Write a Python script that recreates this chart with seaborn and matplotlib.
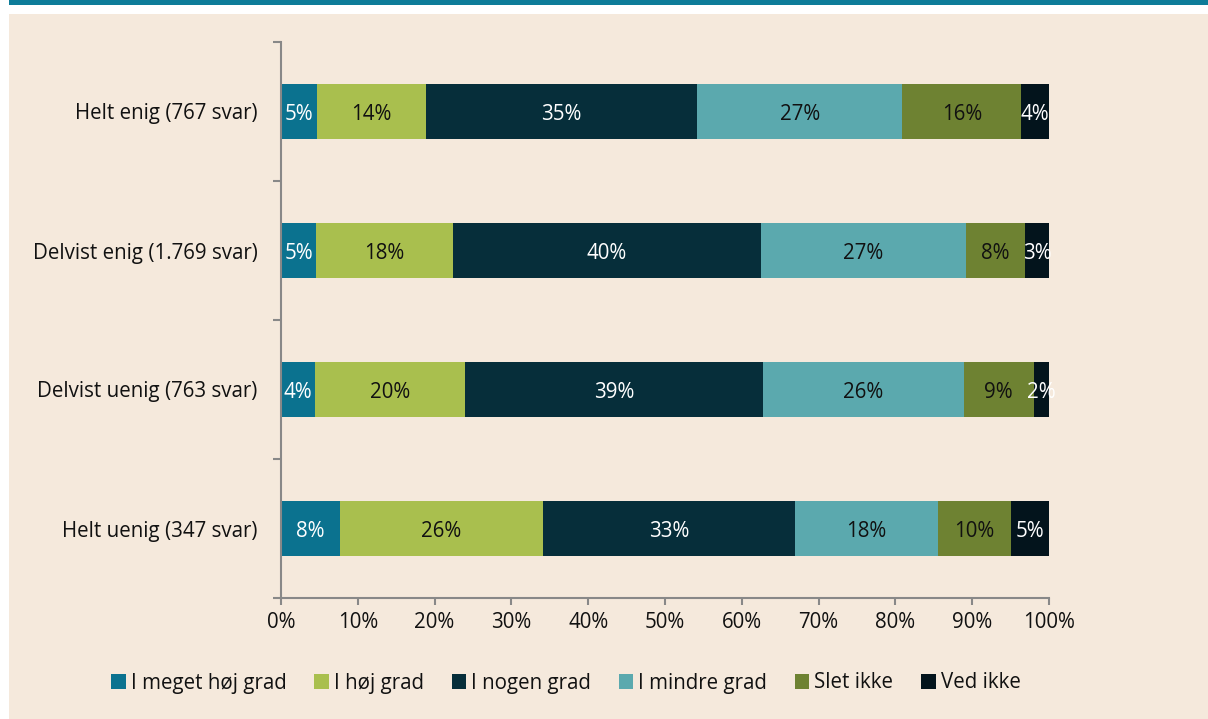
import matplotlib
matplotlib.use("Agg")
import matplotlib.pyplot as plt
import matplotlib.patches as mpatches
import seaborn as sns
import numpy as np
import pandas as pd

categories = ["Helt enig (767 svar)", "Delvist enig (1.769 svar)",
              "Delvist uenig (763 svar)", "Helt uenig (347 svar)"]
series = ["I meget høj grad", "I høj grad", "I nogen grad",
          "I mindre grad", "Slet ikke", "Ved ikke"]
values = {
    "I meget høj grad": [4.7, 4.6, 4.4, 7.7],
    "I høj grad":       [14.2, 17.8, 19.6, 26.4],
    "I nogen grad":     [35.3, 40.1, 38.8, 32.8],
    "I mindre grad":    [26.7, 26.7, 26.1, 18.6],
    "Slet ikke":        [15.5, 7.7, 9.1, 9.6],
    "Ved ikke":         [3.6, 3.1, 2.0, 4.9],
}
labels = {
    "I meget høj grad": [5, 5, 4, 8],
    "I høj grad":       [14, 18, 20, 26],
    "I nogen grad":     [35, 40, 39, 33],
    "I mindre grad":    [27, 27, 26, 18],
    "Slet ikke":        [16, 8, 9, 10],
    "Ved ikke":         [4, 3, 2, 5],
}
colors = ["#0B728F", "#A9BF4E", "#062E3A", "#5BA9AE", "#6E8232", "#03141C"]
text_colors = ["white", "#111111", "white", "#111111", "#111111", "white"]

BG = "#F5E9DC"
FS = 14.8
sns.set_theme(style="white")
plt.rcParams["font.family"] = ["Open Sans", "DejaVu Sans"]

fig = plt.figure(figsize=(12.08, 7.19), dpi=100)
fig.patch.set_facecolor("white")
W, H = 1208, 719
fig.patches.append(mpatches.Rectangle((9 / W, 0), 1 - 9 / W, 1 - 14 / H,
                                      transform=fig.transFigure, facecolor=BG,
                                      edgecolor="none", zorder=-10))
fig.patches.append(mpatches.Rectangle((9 / W, 1 - 5 / H), 1 - 9 / W, 5 / H,
                                      transform=fig.transFigure, facecolor="#0E7C99",
                                      edgecolor="none", zorder=-10))

ax = fig.add_axes([281 / W, 1 - 598 / H, 768 / W, 556 / H])
ax.set_facecolor("none")

df = pd.DataFrame(values, index=categories)
cum = df.cumsum(axis=1)

# draw cumulative bars from the widest to the narrowest
for i in range(len(series) - 1, -1, -1):
    s = series[i]
    d = pd.DataFrame({"cat": categories, "val": cum[s].values})
    sns.barplot(data=d, x="val", y="cat", orient="h", color=colors[i],
                width=0.4, saturation=1, ax=ax, order=categories,
                linewidth=0, edgecolor="none")

for i, s in enumerate(series):
    lefts = cum[s].values - df[s].values
    for j in range(len(categories)):
        cx = lefts[j] + df[s].values[j] / 2
        ax.text(cx, j + 0.02, f"{labels[s][j]}%", ha="center", va="center",
                fontsize=FS, color=text_colors[i])

ax.set_xlim(0, 100)
ax.set_ylim(3.5, -0.5)
ax.set_xlabel("")
ax.set_ylabel("")
ax.set_xticks(np.arange(0, 101, 10))
ax.set_xticklabels([f"{v}%" for v in range(0, 101, 10)], fontsize=FS, color="#111111")
ax.set_yticks(range(len(categories)))
ax.set_yticklabels(categories, fontsize=FS, color="#111111")
ax.set_yticks([-0.5, 0.5, 1.5, 2.5, 3.5], minor=True)
ax.tick_params(axis="y", which="major", length=0, pad=17)
ax.tick_params(axis="y", which="minor", length=5.5, width=1.5, color="#888888", left=True)
ax.tick_params(axis="x", which="major", length=5, width=1.5, color="#888888", bottom=True, pad=5)

for sp in ["top", "right"]:
    ax.spines[sp].set_visible(False)
for sp in ["left", "bottom"]:
    ax.spines[sp].set_color("#888888")
    ax.spines[sp].set_linewidth(1.5)

handles = [mpatches.Patch(facecolor=c, edgecolor="none", label=s) for s, c in zip(series, colors)]
leg = fig.legend(handles=handles, loc="center", bbox_to_anchor=(566 / W, 1 - 683 / H),
                 ncol=6, frameon=False, fontsize=FS, handlelength=0.7, handleheight=0.7,
                 handletextpad=0.25, columnspacing=1.35, labelcolor="#111111")

fig.savefig("out.png", dpi=100, facecolor=fig.get_facecolor())
